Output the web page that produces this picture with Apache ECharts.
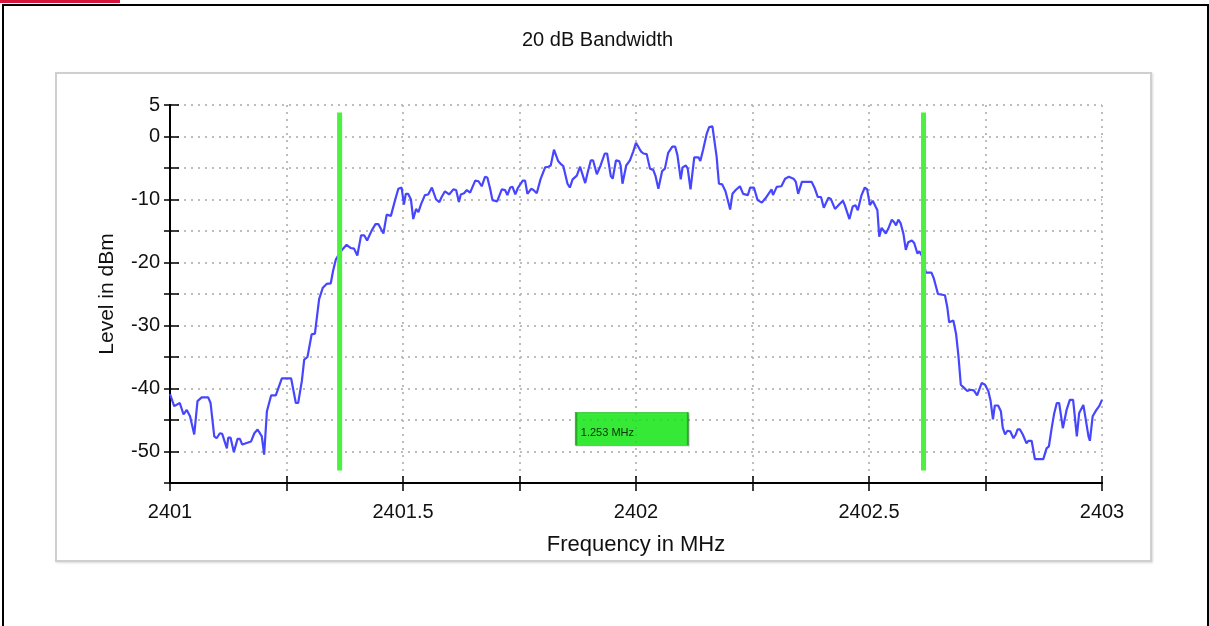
<!DOCTYPE html>
<html>
<head>
<meta charset="utf-8">
<title>20 dB Bandwidth</title>
<script src="https://cdn.jsdelivr.net/npm/echarts@6/dist/echarts.min.js"></script>
<style>
  html, body { margin: 0; padding: 0; background: #fff; }
  body { width: 1209px; height: 626px; position: relative; overflow: hidden; }
  .red-tab { position: absolute; left: 0; top: 0; width: 120px; height: 3px; background: #d4163c; }
  .page-border { position: absolute; left: 2px; top: 4px; width: 1203px; height: 640px; border: 2px solid #000; }
  .chart-frame { position: absolute; left: 55px; top: 72px; width: 1093px; height: 486px;
    border: 2px solid #cfcfcf; box-shadow: 1px 1px 2px rgba(0,0,0,0.15); }
  #chart { position: absolute; left: 0; top: 0; width: 1209px; height: 626px; }
</style>
</head>
<body>
<div class="red-tab"></div>
<div class="page-border"></div>
<div class="chart-frame"></div>
<div id="chart"></div>
<script>
// 频谱数据 (MHz / dBm)
const freqMHz = [
  2401.000, 2401.004, 2401.009, 2401.021, 2401.029, 2401.036, 2401.043, 2401.052, 2401.059, 2401.068,
  2401.082, 2401.087, 2401.095, 2401.100, 2401.107, 2401.112, 2401.122, 2401.125, 2401.130, 2401.137,
  2401.145, 2401.150, 2401.155, 2401.174, 2401.181, 2401.188, 2401.197, 2401.202, 2401.208, 2401.217,
  2401.227, 2401.231, 2401.240, 2401.260, 2401.270, 2401.275, 2401.283, 2401.288, 2401.295, 2401.304,
  2401.311, 2401.320, 2401.328, 2401.336, 2401.345, 2401.350, 2401.356, 2401.361, 2401.368, 2401.379,
  2401.388, 2401.395, 2401.402, 2401.410, 2401.417, 2401.423, 2401.433, 2401.441, 2401.447, 2401.458,
  2401.465, 2401.474, 2401.483, 2401.490, 2401.497, 2401.502, 2401.506, 2401.511, 2401.517, 2401.522,
  2401.528, 2401.533, 2401.539, 2401.547, 2401.554, 2401.562, 2401.565, 2401.571, 2401.578, 2401.583,
  2401.590, 2401.599, 2401.608, 2401.614, 2401.620, 2401.624, 2401.631, 2401.637, 2401.644, 2401.655,
  2401.662, 2401.669, 2401.676, 2401.681, 2401.687, 2401.692, 2401.702, 2401.706, 2401.712, 2401.719,
  2401.724, 2401.730, 2401.735, 2401.741, 2401.747, 2401.757, 2401.762, 2401.767, 2401.771, 2401.775,
  2401.780, 2401.787, 2401.795, 2401.805, 2401.812, 2401.817, 2401.824, 2401.828, 2401.833, 2401.839,
  2401.844, 2401.848, 2401.853, 2401.858, 2401.864, 2401.873, 2401.880, 2401.883, 2401.891, 2401.896,
  2401.903, 2401.908, 2401.916, 2401.924, 2401.933, 2401.938, 2401.946, 2401.950, 2401.957, 2401.964,
  2401.967, 2401.971, 2401.979, 2401.987, 2401.994, 2402.000, 2402.007, 2402.011, 2402.016, 2402.023,
  2402.030, 2402.037, 2402.042, 2402.048, 2402.056, 2402.062, 2402.069, 2402.078, 2402.084, 2402.089,
  2402.096, 2402.100, 2402.107, 2402.111, 2402.117, 2402.125, 2402.134, 2402.138, 2402.144, 2402.152,
  2402.157, 2402.164, 2402.168, 2402.173, 2402.178, 2402.185, 2402.192, 2402.198, 2402.202, 2402.207,
  2402.214, 2402.223, 2402.230, 2402.240, 2402.245, 2402.253, 2402.261, 2402.265, 2402.270, 2402.280,
  2402.291, 2402.294, 2402.302, 2402.312, 2402.320, 2402.328, 2402.338, 2402.343, 2402.348, 2402.356,
  2402.377, 2402.384, 2402.390, 2402.397, 2402.403, 2402.413, 2402.418, 2402.427, 2402.436, 2402.444,
  2402.448, 2402.458, 2402.465, 2402.471, 2402.476, 2402.484, 2402.491, 2402.496, 2402.502, 2402.508,
  2402.518, 2402.522, 2402.527, 2402.531, 2402.536, 2402.541, 2402.549, 2402.554, 2402.558, 2402.563,
  2402.568, 2402.574, 2402.579, 2402.584, 2402.592, 2402.597, 2402.604, 2402.608, 2402.614, 2402.622,
  2402.634, 2402.639, 2402.643, 2402.648, 2402.663, 2402.668, 2402.672, 2402.675, 2402.681, 2402.687,
  2402.692, 2402.697, 2402.704, 2402.711, 2402.717, 2402.725, 2402.732, 2402.742, 2402.749, 2402.756,
  2402.761, 2402.766, 2402.770, 2402.777, 2402.783, 2402.787, 2402.792, 2402.797, 2402.803, 2402.810,
  2402.815, 2402.819, 2402.824, 2402.830, 2402.838, 2402.842, 2402.849, 2402.856, 2402.874, 2402.881,
  2402.886, 2402.892, 2402.897, 2402.903, 2402.908, 2402.916, 2402.924, 2402.931, 2402.938, 2402.946,
  2402.951, 2402.960, 2402.963, 2402.971, 2402.974, 2402.980, 2402.988, 2402.994, 2403.000
];
const levelDbm = [
  -40.9, -41.0, -42.8, -42.3, -44.1, -43.4, -44.4, -47.3, -42.0, -41.4,
  -41.4, -42.3, -47.6, -47.9, -47.1, -47.2, -49.5, -47.8, -47.8, -50.1,
  -48.0, -48.0, -48.9, -48.4, -47.1, -46.5, -47.6, -50.5, -43.6, -41.1,
  -41.1, -41.4, -38.4, -38.4, -42.3, -42.3, -38.8, -35.4, -35.0, -31.4,
  -31.3, -25.8, -24.0, -23.4, -23.3, -21.3, -19.5, -18.9, -18.1, -17.2,
  -17.7, -17.8, -18.9, -15.7, -15.7, -16.5, -14.9, -13.9, -13.9, -15.4,
  -12.4, -12.6, -10.1, -8.3, -8.1, -10.8, -9.1, -9.1, -10.0, -13.1,
  -11.5, -12.0, -10.7, -9.3, -9.2, -8.1, -8.1, -10.0, -10.4, -9.6,
  -8.7, -9.2, -8.4, -8.5, -10.4, -9.2, -9.0, -8.5, -8.9, -7.0,
  -7.1, -7.9, -6.4, -6.5, -8.3, -10.1, -10.3, -10.6, -8.4, -8.5,
  -9.3, -8.1, -8.0, -9.2, -8.1, -7.0, -7.0, -9.1, -9.1, -8.3,
  -8.5, -9.0, -6.8, -4.9, -4.8, -4.6, -2.1, -2.2, -3.9, -4.4,
  -4.7, -4.6, -7.5, -8.1, -6.8, -6.2, -4.8, -5.0, -7.4, -5.8,
  -3.8, -3.8, -6.0, -4.6, -2.7, -2.7, -6.3, -6.7, -3.8, -3.9,
  -4.6, -7.5, -4.6, -3.8, -2.4, -1.0, -1.9, -2.4, -2.7, -2.8,
  -5.1, -5.3, -6.3, -8.3, -5.5, -5.1, -2.6, -1.6, -1.6, -3.0,
  -6.8, -4.9, -4.6, -5.1, -8.4, -3.3, -3.3, -3.9, -2.1, 0.5,
  1.5, 1.6, 1.3, -3.2, -7.5, -7.6, -8.7, -10.4, -11.6, -9.1,
  -8.5, -7.9, -9.1, -9.3, -8.1, -8.1, -10.1, -10.0, -10.5, -9.6,
  -8.4, -9.3, -8.0, -7.9, -6.7, -6.4, -6.7, -7.2, -9.1, -7.2,
  -7.2, -8.3, -9.6, -9.6, -11.3, -9.7, -9.9, -11.5, -10.8, -10.2,
  -10.9, -13.1, -11.1, -10.9, -11.7, -9.3, -8.1, -8.4, -10.9, -10.2,
  -11.7, -15.9, -14.5, -14.6, -15.4, -14.7, -13.2, -13.6, -14.1, -13.2,
  -13.8, -15.5, -18.0, -16.8, -16.5, -16.9, -18.6, -18.2, -19.0, -21.6,
  -21.6, -22.5, -22.6, -25.0, -25.2, -27.1, -29.5, -29.2, -29.2, -31.4,
  -34.9, -39.4, -39.9, -40.4, -40.2, -40.3, -41.1, -39.1, -39.4, -40.4,
  -42.0, -44.9, -42.7, -42.7, -43.6, -46.2, -47.3, -46.7, -46.8, -47.9,
  -47.3, -46.5, -46.5, -47.3, -48.7, -48.3, -48.3, -51.2, -51.2, -49.5,
  -49.2, -46.3, -44.1, -42.3, -42.3, -46.3, -43.4, -41.8, -41.8, -47.6,
  -43.9, -42.6, -42.7, -47.6, -48.3, -44.4, -43.4, -42.8, -41.8
];

// 20 dB 带宽标记
const markerFreqs = [2401.364, 2402.617];
const markerLevels = [3.8, -53];
const bandwidthText = '1.253 MHz';
const bandwidthBoxAt = [2401.991, -46.4];

// 坐标轴
const xMin = 2401, xMax = 2403, xStep = 0.25;
const yMin = -55, yMax = 5, yStep = 5;

const FONT = '"Liberation Sans", Arial, Helvetica, sans-serif';

const chart = echarts.init(document.getElementById('chart'));

const gridLine = {
  show: true,
  lineStyle: { color: '#bdbdbd', width: 2, type: [2, 5] }
};

const xLabel = v => {
  // 只在 0.5 MHz 处写标签
  if (Math.round((v - xMin) / xStep) % 2 !== 0) return '';
  return String(Number(v.toFixed(2)));
};
const yLabel = v => (v === yMax || v % 10 === 0) ? String(v) : '';

const xAxisBase = {
  type: 'value', min: xMin, max: xMax, interval: xStep,
  position: 'bottom',
  axisLine: { show: true, onZero: false, lineStyle: { color: '#000', width: 2 } }
};
const yAxisBase = {
  type: 'value', min: yMin, max: yMax, interval: yStep,
  position: 'left',
  axisLine: { show: true, onZero: false, lineStyle: { color: '#000', width: 2 } }
};

const trace = freqMHz.map((f, i) => [f, levelDbm[i]]);

const markerSeries = markerFreqs.map(f => ({
  type: 'line',
  data: markerLevels.map(l => [f, l]),
  symbol: 'none',
  silent: true,
  z: 4,
  lineStyle: { color: '#4cf03f', width: 5, cap: 'butt' }
}));

const option = {
  animation: false,
  textStyle: { fontFamily: FONT },
  title: {
    text: '20 dB Bandwidth',
    left: 522,
    top: 30,
    padding: 0,
    textStyle: { fontFamily: FONT, fontSize: 20, fontWeight: 'normal', color: '#111' }
  },
  grid: { left: 170, right: 107, top: 105, bottom: 143, containLabel: false },
  xAxis: [
    Object.assign({}, xAxisBase, {
      name: 'Frequency in MHz',
      nameLocation: 'middle',
      nameGap: 51,
      nameTextStyle: { fontFamily: FONT, fontSize: 22, color: '#111' },
      axisTick: { show: true, length: 8, lineStyle: { color: '#000', width: 1.5 } },
      axisLabel: { formatter: xLabel, margin: 19, fontFamily: FONT, fontSize: 20, color: '#111' },
      splitLine: gridLine
    }),
    Object.assign({}, xAxisBase, {
      axisTick: { show: true, inside: true, length: 7, lineStyle: { color: '#000', width: 1.5 } },
      axisLabel: { show: false },
      splitLine: { show: false }
    })
  ],
  yAxis: [
    Object.assign({}, yAxisBase, {
      name: 'Level in dBm',
      nameLocation: 'middle',
      nameGap: 52,
      nameTextStyle: { fontFamily: FONT, fontSize: 21, color: '#111' },
      axisTick: { show: true, length: 6, lineStyle: { color: '#000', width: 1.5 } },
      axisLabel: { formatter: yLabel, margin: 10, fontFamily: FONT, fontSize: 20, color: '#111' },
      splitLine: gridLine
    }),
    Object.assign({}, yAxisBase, {
      axisTick: { show: true, inside: true, length: 9, lineStyle: { color: '#000', width: 1.5 } },
      axisLabel: { show: false },
      splitLine: { show: false }
    })
  ],
  series: [
    {
      name: 'Level',
      type: 'line',
      data: trace,
      symbol: 'none',
      z: 3,
      lineStyle: { color: '#4646ff', width: 2.2 }
    },
    ...markerSeries,
    {
      // 带宽数值框
      type: 'scatter',
      data: [bandwidthBoxAt],
      symbol: 'rect',
      symbolSize: [112, 33],
      silent: true,
      z: 5,
      itemStyle: {
        color: '#10f010',
        borderColor: '#1e9e1e',
        borderWidth: 1,
        shadowColor: 'rgba(0,0,0,0.25)',
        shadowOffsetX: 1,
        shadowOffsetY: 1,
        shadowBlur: 1
      },
      label: {
        show: true,
        position: 'inside',
        formatter: bandwidthText,
        align: 'left',
        offset: [-51, 4],
        fontFamily: FONT,
        fontSize: 11,
        color: '#000'
      }
    }
  ]
};

chart.setOption(option);
window.addEventListener('resize', () => chart.resize());
</script>
</body>
</html>
